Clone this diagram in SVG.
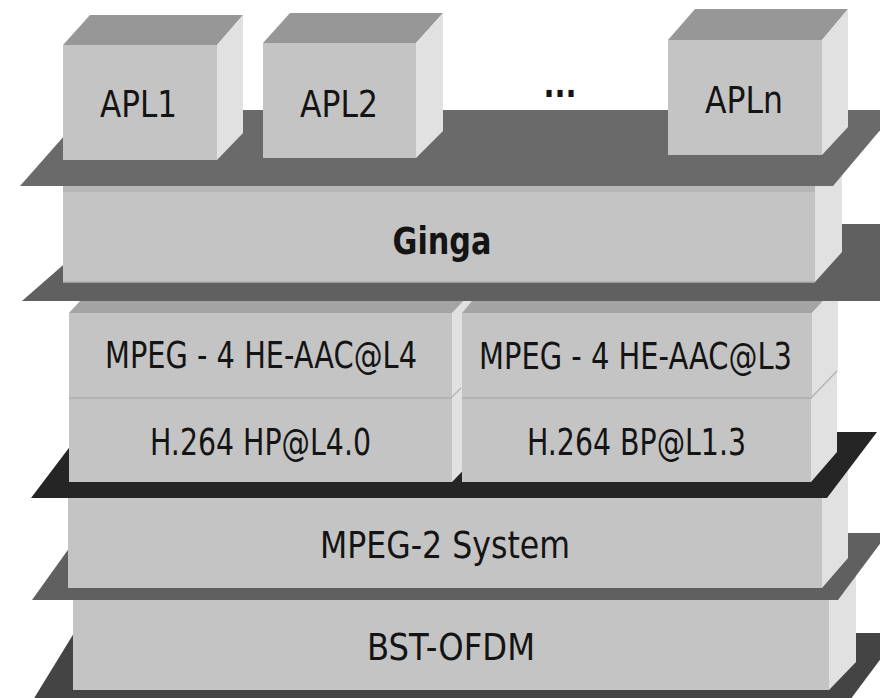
<svg xmlns="http://www.w3.org/2000/svg" width="880" height="698" viewBox="0 0 880 698">
<style>
.front{fill:#c4c4c4}
.side{fill:#e1e1e1}
.top{fill:#979797}
.top2{fill:#a4a4a4}
.sep{stroke:#adadad;stroke-width:1.5;fill:none}
.t{font-family:"DejaVu Sans","Liberation Sans",sans-serif;font-size:37px;fill:#141414;text-anchor:middle}
.b{font-weight:bold}
</style>
<rect width="880" height="698" fill="#ffffff"/>
<g id="slab5"><polygon points="33,700 74,633 900,633 850,700" fill="#444444"/></g>
<g id="bst-ofdm">
<rect class="front" x="73" y="600" width="756" height="90"/>
<polygon class="side" points="829,600 856,570 856,662 829,690"/>
<text class="t" x="451" y="660" textLength="168" lengthAdjust="spacingAndGlyphs">BST-OFDM</text>
</g>
<g id="slab4"><polygon points="32,600 80,533 888,533 838,600" fill="#606060"/></g>
<g id="mpeg2-system">
<rect class="front" x="68" y="498" width="754" height="90"/>
<polygon class="side" points="822,498 848,468 848,558 822,588"/>
<text class="t" x="445" y="558" textLength="250" lengthAdjust="spacingAndGlyphs">MPEG-2 System</text>
</g>
<g id="slab3"><polygon points="31,498 81,432 877,432 827,498" fill="#252525"/></g>
<g id="h264-hp">
<rect class="front" x="69" y="397" width="383" height="85"/>
<polygon class="side" points="452,397 478,370 478,455 452,482"/>
<text class="t" x="260.5" y="455" textLength="221" lengthAdjust="spacingAndGlyphs">H.264 HP@L4.0</text>
</g>
<g id="h264-bp">
<rect class="front" x="462" y="397" width="349" height="85"/>
<polygon class="side" points="811,397 837,370 837,452 811,482"/>
<text class="t" x="636.5" y="455" textLength="219" lengthAdjust="spacingAndGlyphs">H.264 BP@L1.3</text>
</g>
<g id="mpeg4-l4">
<polygon class="top2" points="69,313 80,301 470,301 452,313"/>
<rect class="front" x="69" y="313" width="383" height="84"/>
<polygon class="side" points="452,313 478,285 478,370 452,397"/>
<line class="sep" x1="69" y1="398" x2="452" y2="398"/>
<line x1="452" y1="397" x2="461" y2="388" stroke="#b5b5b5" stroke-width="1.5"/>
<text class="t" x="261" y="368" textLength="312" lengthAdjust="spacingAndGlyphs">MPEG - 4 HE-AAC@L4</text>
</g>
<g id="mpeg4-l3">
<polygon class="top2" points="462,313 472,301 823,301 812,313"/>
<rect class="front" x="462" y="313" width="350" height="84"/>
<polygon class="side" points="812,313 838,285 838,370 812,397"/>
<line class="sep" x1="462" y1="398" x2="812" y2="398"/>
<line x1="812" y1="397" x2="837" y2="371" stroke="#b5b5b5" stroke-width="1.5"/>
<text class="t" x="635.5" y="369" textLength="313" lengthAdjust="spacingAndGlyphs">MPEG - 4 HE-AAC@L3</text>
</g>
<g id="slab2"><polygon points="22,301 110,224 960,224 890,301" fill="#606060"/></g>
<g id="ginga">
<rect class="front" x="63" y="186" width="752" height="96"/>
<rect x="63" y="186" width="752" height="6" fill="#b6b6b6"/>
<polygon class="side" points="815,186 842,156 842,252 815,282"/>
<line x1="63" y1="282" x2="815" y2="282" stroke="#b0b0b0" stroke-width="1.5"/>
<text class="t b" x="442" y="254" textLength="99" lengthAdjust="spacingAndGlyphs">Ginga</text>
</g>
<g id="slab1"><polygon points="20,186 87,110 897,110 833,186" fill="#6a6a6a"/></g>
<g id="apl1">
<polygon class="top" points="63,45 90,15 243,15 217,45"/>
<rect class="front" x="63" y="45" width="154" height="115"/>
<polygon class="side" points="217,45 243,15 243,133 217,160"/>
<text class="t" x="138.5" y="117" textLength="77" lengthAdjust="spacingAndGlyphs">APL1</text>
</g>
<g id="apl2">
<polygon class="top" points="263,43 290,13 443,13 416,43"/>
<rect class="front" x="263" y="43" width="153" height="115"/>
<polygon class="side" points="416,43 443,13 443,131 416,158"/>
<text class="t" x="339" y="117" textLength="78" lengthAdjust="spacingAndGlyphs">APL2</text>
</g>
<g id="ellipsis">
<text class="t b" x="560" y="97" textLength="33" lengthAdjust="spacingAndGlyphs">...</text>
</g>
<g id="apln">
<polygon class="top" points="668,40 695,9 848,9 822,40"/>
<rect class="front" x="668" y="40" width="154" height="115"/>
<polygon class="side" points="822,40 848,9 848,127 822,155"/>
<text class="t" x="744" y="113" textLength="78" lengthAdjust="spacingAndGlyphs">APLn</text>
</g>
<g id="connectors"/>
</svg>
